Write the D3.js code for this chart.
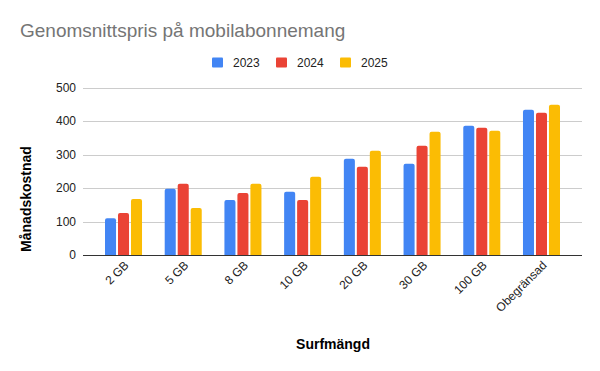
<!DOCTYPE html>
<html>
<head>
<meta charset="utf-8">
<script src="https://cdn.jsdelivr.net/npm/d3@7"></script>
<style>
  body { margin: 0; background: #fff; }
  text { font-family: "Liberation Sans", Arial, sans-serif; }
</style>
</head>
<body>
<svg id="chart" width="600" height="371"></svg>
<script>
var categories = ['2 GB', '5 GB', '8 GB', '10 GB', '20 GB', '30 GB', '100 GB', 'Obegränsad'];
var seriesNames = ['2023', '2024', '2025'];
var values2023 = [110, 198, 165, 189, 288, 273, 387, 435];
var values2024 = [126, 213, 186, 165, 264, 327, 381, 426];
var values2025 = [168, 141, 213, 234, 312, 369, 372, 450];
var yTicks = [0, 100, 200, 300, 400, 500];
var colors = ['#4285f4', '#ea4335', '#fbbc04'];

var series = [values2023, values2024, values2025];
var svg = d3.select('#chart');

var gridLeft = 83, gridRight = 582;
var plotTop = 88, plotBottom = 255;

var x = d3.scaleBand().domain(categories).range([105, 560]).paddingInner(0.38).paddingOuter(0);
var xInner = d3.scaleBand().domain(seriesNames).range([0, x.bandwidth()]).paddingInner(0.15);
var y = d3.scaleLinear().domain([0, 500]).range([plotBottom, plotTop]);

// title
svg.append('text')
  .attr('x', 20).attr('y', 37)
  .attr('font-size', 19).attr('fill', '#757575')
  .text('Genomsnittspris på mobilabonnemang');

// legend
var legendX = [212, 276, 340];
seriesNames.forEach(function (name, i) {
  svg.append('rect')
    .attr('x', legendX[i]).attr('y', 57.5).attr('width', 11).attr('height', 10)
    .attr('rx', 1).attr('fill', colors[i]);
  svg.append('text')
    .attr('x', legendX[i] + 21).attr('y', 66.5)
    .attr('font-family', 'Roboto').attr('font-size', 12).attr('fill', '#222')
    .text(name);
});

// gridlines
svg.append('g').selectAll('line').data(yTicks.slice(1)).join('line')
  .attr('x1', gridLeft).attr('x2', gridRight)
  .attr('y1', function (d) { return Math.round(y(d)) + 0.5; })
  .attr('y2', function (d) { return Math.round(y(d)) + 0.5; })
  .attr('stroke', '#ccc').attr('stroke-width', 1);

// y tick labels
svg.append('g').selectAll('text').data(yTicks).join('text')
  .attr('x', 76).attr('y', function (d) { return y(d) + 4; })
  .attr('text-anchor', 'end').attr('font-family', 'Roboto').attr('font-size', 12).attr('fill', '#222')
  .text(function (d) { return d; });

// bars
var groups = svg.append('g').selectAll('g').data(categories).join('g')
  .attr('transform', function (d) { return 'translate(' + x(d) + ',0)'; });

groups.selectAll('path').data(function (d, ci) {
  return seriesNames.map(function (s, si) { return { s: s, v: series[si][ci], si: si }; });
}).join('path')
  .attr('fill', function (d) { return colors[d.si]; })
  .attr('d', function (d) {
    var bx = xInner(d.s), bw = xInner.bandwidth(), top = y(d.v), bottom = y(0), r = 2;
    return 'M' + bx + ',' + bottom +
      'V' + (top + r) + 'Q' + bx + ',' + top + ' ' + (bx + r) + ',' + top +
      'H' + (bx + bw - r) + 'Q' + (bx + bw) + ',' + top + ' ' + (bx + bw) + ',' + (top + r) +
      'V' + bottom + 'Z';
  });

// baseline
svg.append('line')
  .attr('x1', gridLeft).attr('x2', gridRight)
  .attr('y1', Math.round(y(0)) + 0.5).attr('y2', Math.round(y(0)) + 0.5)
  .attr('stroke', '#333').attr('stroke-width', 1);

// x labels rotated
svg.append('g').selectAll('text').data(categories).join('text')
  .attr('transform', function (d) {
    return 'translate(' + (x(d) + x.bandwidth() / 2 + 6) + ',266) rotate(-45)';
  })
  .attr('text-anchor', 'end').attr('font-size', 12).attr('fill', '#222')
  .text(function (d) { return d; });

// axis titles
svg.append('text')
  .attr('x', 333).attr('y', 349)
  .attr('text-anchor', 'middle').attr('font-size', 14).attr('font-weight', 'bold').attr('fill', '#000')
  .text('Surfmängd');

svg.append('text')
  .attr('transform', 'translate(31,199) rotate(-90)')
  .attr('text-anchor', 'middle').attr('font-size', 14).attr('font-weight', 'bold').attr('fill', '#000')
  .text('Månadskostnad');
</script>
</body>
</html>
